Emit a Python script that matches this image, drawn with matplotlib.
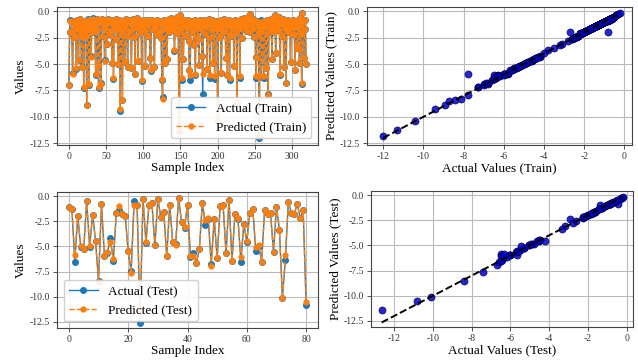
import matplotlib
matplotlib.use("Agg")
import matplotlib.pyplot as plt
import numpy as np

plt.rcParams['font.family'] = ['Liberation Serif', 'DejaVu Serif']

actual_train = [
    -7.0, -2.0, -0.8, -1.9, -2.2, -5.8, -1.0, -0.9, -2.4, -1.2, -5.5, -0.8, -1.6, -4.6, -1.1, -0.7, -2.1, -5.3, -0.9, -1.5,
    -7.3, -1.2, -2.3, -0.9, -8.9, -1.8, -0.7, -7.0, -1.4, -0.8, -4.2, -1.1, -2.0, -0.6, -1.3, -0.9, -6.0, -1.7, -0.7, -5.2,
    -7.3, -1.0, -0.8, -6.8, -2.3, -0.7, -1.2, -0.9, -4.6, -1.6, -0.8, -3.1, -1.1, -0.7, -2.2, -1.0, -0.8, -1.9, -4.9, -1.3,
    -6.4, -0.9, -1.4, -0.7, -2.6, -1.1, -5.0, -0.8, -1.6, -9.4, -0.9, -2.0, -8.4, -1.2, -0.8, -4.8, -1.5, -0.7, -2.3, -5.3,
    -1.0, -0.8, -1.9, -0.9, -5.4, -1.3, -0.7, -2.4, -1.1, -5.9, -0.9, -1.6, -0.6, -4.7, -1.2, -0.8, -2.1, -1.0, -6.6, -1.4,
    -0.9, -1.8, -0.8, -5.2, -1.1, -0.9, -2.3, -1.3, -0.8, -4.4, -5.7, -1.0, -0.8, -1.7, -1.1, -5.3, -0.9, -1.4, -0.8, -2.2,
    -1.2, -0.9, -1.9, -1.0, -2.5, -6.5, -8.1, -1.2, -0.8, -4.9, -1.5, -0.9, -4.5, -1.1, -0.7, -2.0, -1.3, -0.6, -1.0, -1.8,
    -0.7, -1.2, -3.8, -0.9, -1.5, -0.5, -2.1, -0.6, -11.3, -0.4, -1.7, -0.7, -6.5, -1.0, -4.5, -0.8, -1.3, -2.3, -0.9, -1.6,
    -0.8, -2.8, -5.6, -6.5, -1.2, -0.9, -2.0, -1.4, -3.2, -0.8, -6.0, -1.1, -0.9, -2.6, -1.3, -5.1, -0.8, -1.7, -1.0, -4.2,
    -7.8, -1.1, -0.8, -2.2, -1.4, -0.9, -5.5, -1.2, -0.7, -2.5, -6.3, -1.0, -1.8, -0.8, -4.9, -1.3, -6.4, -0.9, -1.6, -1.1,
    -10.4, -0.9, -1.3, -2.4, -0.8, -5.8, -1.5, -1.0, -0.7, -2.0, -1.2, -4.4, -0.9, -6.0, -1.4, -0.8, -6.5, -1.1, -2.3, -0.9,
    -1.6, -1.0, -5.2, -0.8, -2.1, -1.3, -8.7, -0.9, -1.7, -1.2, -6.3, -0.7, -1.0, -2.5, -0.9, -1.4, -0.6, -1.1, -1.9, -0.8,
    -1.3, -0.5, -0.9, -2.0, -0.3, -1.2, -0.8, -1.6, -0.7, -2.4, -1.0, -4.3, -6.3, -0.9, -1.5, -2.7, -12.0, -1.1, -0.8, -6.2,
    -1.3, -0.9, -6.3, -1.6, -1.0, -5.4, -0.8, -2.2, -7.8, -1.2, -0.9, -1.7, -0.7, -4.5, -1.4, -0.6, -2.0, -0.4, -4.0, -1.0,
    -0.8, -1.8, -0.5, -1.2, -6.0, -0.9, -2.3, -1.1, -0.7, -5.3, -1.5, -0.9, -6.8, -1.2, -0.8, -2.0, -1.0, -1.6, -4.8, -0.9,
    -1.3, -0.8, -2.2, -1.1, -5.6, -0.9, -1.5, -3.5, -0.8, -1.2, -4.9, -0.6, -2.1, -6.9, -0.2, -1.0, -4.4, -1.7, -0.8, -5.0,
]

pred_train = [
    -7.0, -2.0, -0.9, -1.9, -2.1, -5.9, -1.0, -0.9, -2.4, -1.2, -5.4, -0.8, -1.6, -4.6, -1.1, -0.7, -2.1, -5.3, -0.9, -1.5,
    -7.2, -1.2, -2.3, -0.9, -8.9, -1.8, -0.8, -6.9, -1.4, -0.8, -4.3, -1.1, -2.0, -0.7, -1.3, -0.9, -5.9, -1.7, -0.7, -5.2,
    -7.2, -1.0, -0.8, -6.9, -2.3, -0.7, -1.2, -0.9, -4.7, -1.6, -0.8, -3.1, -1.1, -0.7, -2.2, -1.0, -0.8, -1.9, -4.9, -1.3,
    -6.3, -0.9, -1.4, -0.7, -2.6, -1.1, -5.0, -0.8, -1.6, -9.3, -0.9, -2.0, -8.4, -1.2, -0.8, -4.8, -1.5, -0.7, -2.3, -5.3,
    -1.0, -0.8, -1.9, -0.9, -5.4, -1.3, -0.7, -2.4, -1.1, -5.9, -0.9, -1.6, -0.6, -4.7, -1.2, -0.8, -2.1, -1.0, -6.5, -1.4,
    -0.9, -1.8, -0.8, -5.2, -1.1, -0.9, -2.3, -1.3, -0.8, -4.4, -5.6, -1.0, -0.8, -1.7, -1.1, -5.3, -0.9, -1.4, -0.8, -2.2,
    -1.2, -0.9, -1.9, -1.0, -2.5, -6.4, -8.3, -1.2, -0.8, -4.9, -1.5, -0.9, -4.5, -1.1, -0.7, -2.0, -1.3, -0.6, -1.0, -1.8,
    -0.7, -1.2, -3.7, -0.9, -1.5, -0.5, -2.1, -0.6, -11.2, -0.4, -1.7, -0.7, -6.3, -1.0, -4.5, -0.8, -1.3, -2.3, -0.9, -1.6,
    -0.8, -2.8, -5.6, -6.0, -1.2, -0.9, -2.0, -1.4, -3.2, -0.8, -5.9, -1.1, -0.9, -2.6, -1.3, -5.1, -0.8, -1.7, -1.0, -4.2,
    -5.9, -1.1, -0.8, -2.2, -1.4, -0.9, -5.5, -1.2, -0.7, -2.5, -6.0, -1.0, -1.8, -0.8, -4.9, -1.3, -6.1, -0.9, -1.6, -1.1,
    -10.4, -0.9, -1.3, -2.4, -0.8, -5.8, -1.5, -1.0, -0.7, -2.0, -1.2, -4.4, -0.9, -6.0, -1.4, -0.8, -6.3, -1.1, -2.3, -0.9,
    -1.6, -1.0, -5.2, -0.8, -2.1, -1.3, -8.5, -0.9, -1.7, -1.2, -6.1, -0.7, -1.0, -2.5, -0.9, -1.4, -0.6, -1.1, -1.9, -0.8,
    -1.3, -0.5, -0.9, -2.0, -0.3, -1.2, -0.8, -1.6, -0.7, -2.4, -1.0, -4.3, -6.1, -0.9, -1.5, -2.0, -11.8, -1.1, -2.0, -6.1,
    -1.3, -0.9, -6.1, -1.6, -1.0, -5.4, -0.8, -2.2, -7.9, -1.2, -0.9, -1.7, -0.7, -4.5, -1.4, -0.6, -2.0, -0.4, -4.0, -1.0,
    -0.8, -1.8, -0.5, -1.2, -5.9, -0.9, -2.3, -1.1, -0.7, -5.3, -1.5, -0.9, -6.8, -1.2, -0.8, -2.0, -1.0, -1.6, -4.8, -0.9,
    -1.3, -0.8, -2.2, -1.1, -5.6, -0.9, -1.5, -3.5, -0.8, -1.2, -4.9, -0.6, -2.1, -6.8, -0.2, -1.0, -4.4, -1.7, -0.8, -5.0,
]

actual_test = [
    -1.1, -1.25, -6.5, -2.0, -5.05, -5.3, -0.5, -5.05, -1.85, -4.45,
    -8.4, -0.8, -6.0, -5.65, -4.2, -6.4, -1.65, -1.35, -1.8, -2.0,
    -5.5, -7.4, -0.45, -0.85, -12.65, -0.25, -4.65, -0.9, -0.7, -4.9,
    -0.3, -2.1, -1.6, -6.0, -0.85, -4.55, -4.8, -0.2, -2.6, -3.2,
    -0.85, -6.05, -5.65, -6.6, -5.3, -0.65, -2.9, -2.25, -6.7, -2.25,
    -6.2, -1.0, -0.85, -5.7, -0.35, -6.45, -1.75, -2.25, -6.5, -2.75,
    -4.55, -1.65, -1.25, -5.45, -4.95, -6.5, -1.4, -1.75, -1.7, -5.55,
    -1.1, -3.35, -10.1, -6.35, -0.55, -1.7, -1.8, -0.75, -2.2, -1.4,
    -10.85,
]

pred_test = [
    -1.1, -1.3, -5.9, -2.0, -5.0, -5.3, -0.5, -5.0, -1.85, -4.5,
    -8.5, -0.8, -5.95, -5.6, -4.6, -6.3, -1.65, -1.0, -1.8, -2.0,
    -5.5, -7.6, -0.9, -0.85, -11.4, -0.25, -4.6, -0.9, -0.7, -4.9,
    -0.3, -2.1, -1.6, -5.95, -0.85, -4.6, -4.9, -0.2, -2.6, -3.1,
    -0.85, -6.0, -6.0, -6.6, -5.3, -0.65, -2.4, -2.2, -6.9, -2.25,
    -6.2, -1.0, -0.85, -5.7, -0.35, -6.4, -1.75, -2.2, -6.1, -2.75,
    -4.5, -1.65, -1.25, -5.1, -4.9, -6.5, -1.4, -1.75, -1.7, -5.55,
    -1.1, -3.35, -10.1, -5.9, -0.55, -1.7, -1.8, -0.75, -2.2, -1.4,
    -10.5,
]

W, H = 638, 362
fig = plt.figure(figsize=(W / 100, H / 100), dpi=100)

def rect(l, r, t, b):
    return [l / W, 1 - b / H, (r - l) / W, (b - t) / H]

ax_tl = fig.add_axes(rect(57, 318, 7, 145))
ax_tr = fig.add_axes(rect(367, 632, 7, 145))
ax_bl = fig.add_axes(rect(57, 318, 192, 328))
ax_br = fig.add_axes(rect(371, 633, 191, 327))

tick_fs = 7
lab_fs = 9.5
leg_fs = 9.5

def style(ax):
    ax.grid(True, color='#bbbbbb', linewidth=0.8)
    ax.set_axisbelow(True)
    ax.tick_params(labelsize=tick_fs, length=3, width=0.6, pad=2, colors='#333333')
    for s in ax.spines.values():
        s.set_linewidth(0.8)
        s.set_color('#444444')

def line_panel(ax, actual, pred, tag, loc):
    idx = np.arange(len(actual))
    ax.plot(idx, actual, marker='o', markersize=4, linewidth=1.0, color='#1f77b4',
            label=f'Actual ({tag})')
    ax.plot(idx, pred, marker='o', markersize=3.5, linewidth=1.0, linestyle='--',
            color='#ff7f0e', label=f'Predicted ({tag})')
    ax.set_xlabel('Sample Index', fontsize=lab_fs, labelpad=1)
    ax.set_ylabel('Values', fontsize=lab_fs, labelpad=2)
    style(ax)
    ax.legend(loc=loc, fontsize=leg_fs, handlelength=2.2, borderpad=0.4,
              labelspacing=0.5, framealpha=0.9)

def scatter_panel(ax, actual, pred, tag):
    ax.scatter(actual, pred, s=26, color='#0000cc', edgecolors='#000033',
               linewidths=0.5, alpha=0.85, zorder=3)
    lo, hi = min(actual), max(actual)
    ax.plot([lo, hi], [lo, hi], 'k--', linewidth=1.4, zorder=4)
    ax.set_xlabel(f'Actual Values ({tag})', fontsize=lab_fs, labelpad=1)
    ax.set_ylabel(f'Predicted Values ({tag})', fontsize=lab_fs, labelpad=2)
    style(ax)

line_panel(ax_tl, actual_train, pred_train, 'Train', 'lower right')
scatter_panel(ax_tr, actual_train, pred_train, 'Train')
line_panel(ax_bl, actual_test, pred_test, 'Test', 'lower left')
scatter_panel(ax_br, actual_test, pred_test, 'Test')

for ax in (ax_tl, ax_tr, ax_bl, ax_br):
    ax.set_yticks([0.0, -2.5, -5.0, -7.5, -10.0, -12.5])
    ax.set_yticklabels(['0.0', '-2.5', '-5.0', '-7.5', '-10.0', '-12.5'])

for ax in (ax_tr, ax_br):
    ticks = [-12, -10, -8, -6, -4, -2, 0]
    ax.set_xticks(ticks)
    ax.set_xticklabels([str(t) if t == 0 else f'-{abs(t)}' for t in ticks])

ax_tl.set_ylim(-12.66, 0.4)
ax_tr.set_ylim(-12.66, 0.4)
ax_tr.set_xlim(-12.8, 0.38)
ax_bl.set_ylim(-13.1, 0.4)
ax_br.set_ylim(-13.1, 0.4)
ax_br.set_xlim(-13.2, 0.33)

fig.savefig('out.png', dpi=100)
